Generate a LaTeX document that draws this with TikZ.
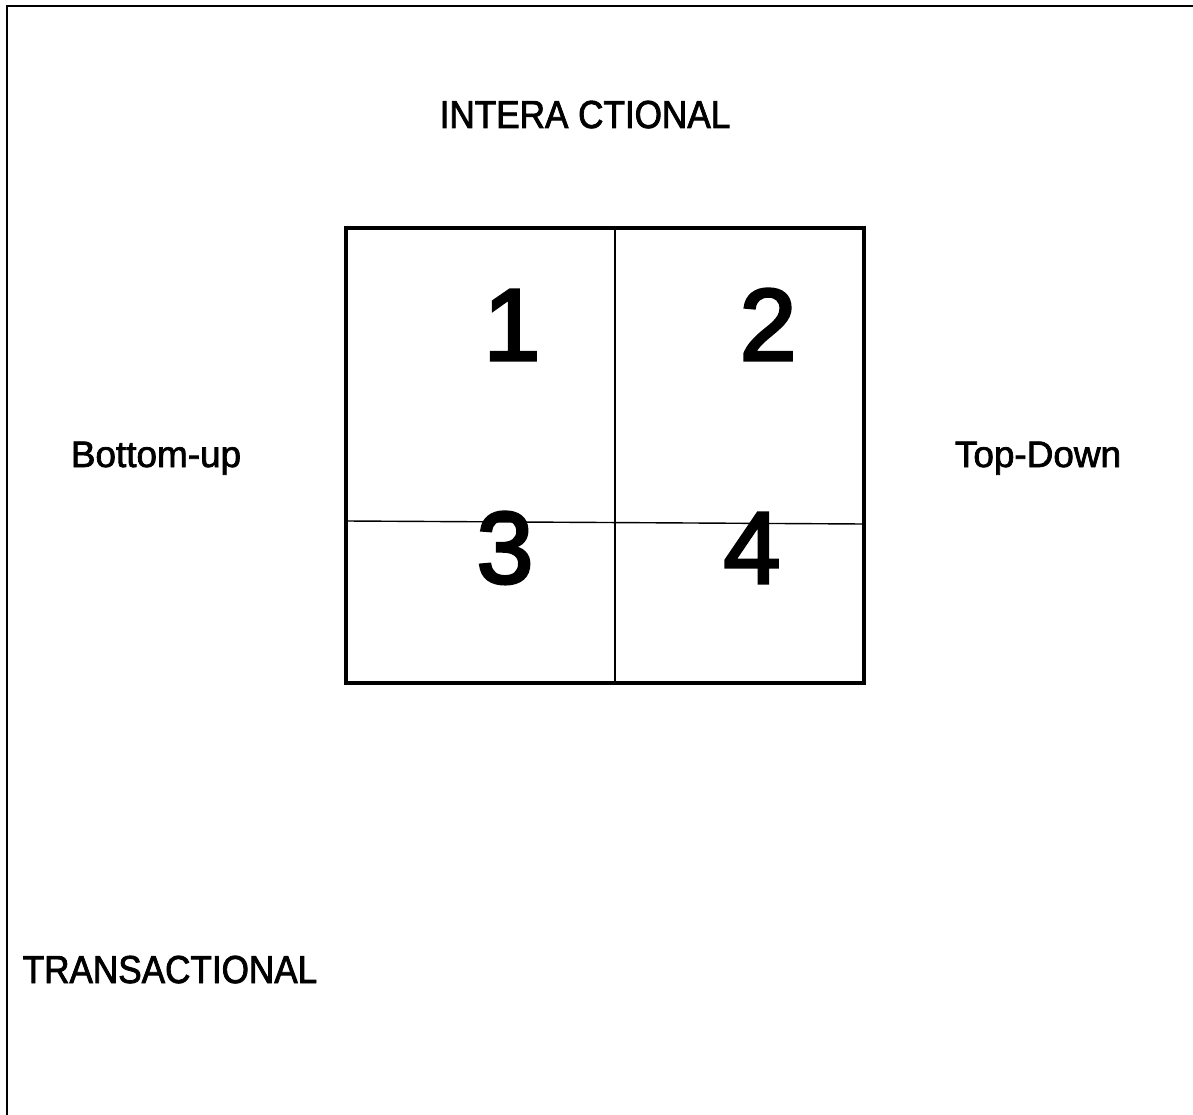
\documentclass[tikz,border=0pt]{standalone}
\usepackage{fontspec}
\setmainfont{Liberation Sans}
\newfontfamily\labelfont[FakeBold=2]{Liberation Sans}
\newfontfamily\digitfont[FakeBold=3]{Liberation Sans}
\newfontfamily\capsfont[FakeStretch=0.9, FakeBold=2]{Liberation Sans}
\usetikzlibrary{positioning}

\begin{document}
\begin{tikzpicture}[x=0.02cm, y=-0.02cm,
    heading/.style={anchor=base, inner sep=0pt, font=\capsfont\fontsize{22.2}{26}\selectfont},
    side/.style={anchor=base, inner sep=0pt, font=\labelfont\fontsize{21}{25}\selectfont},
    quadrant/.style={anchor=base, inner sep=0pt, font=\digitfont\fontsize{58}{64}\selectfont}]
    \useasboundingbox (0,0) rectangle (1193,1115);

    % Frame
    \draw[line width=1.1pt] (7,1115) -- (7,6) -- (1193,6);

    % Quadrant box
    \node[draw, line width=2.2pt, inner sep=0pt, minimum width=10.36cm, minimum height=9.1cm] (grid) at (605,455.5) {};
    \coordinate (divtop) at (615,228);
    \coordinate (divbot) at (615,683);
    \coordinate (divleft) at (347,521);
    \coordinate (divright) at (864,524);
    \draw[line width=0.8pt] (divtop) -- (divbot);
    \draw[line width=0.8pt] (divleft) -- (divright);

    % Numbers
    \node[quadrant] (one) at (512,360) {1};
    \node[quadrant] (two) at (768,360) {2};
    \node[quadrant] (three) at (505,583) {3};
    \node[quadrant] (four) at (752,583) {4};

    % Labels
    \node[heading] (inter) at (585,128) {INTERA CTIONAL};
    \node[side] (bottomup) at (156,467) {Bottom-up};
    \node[side] (topdown) at (1038,467) {Top-Down};
    \node[heading] (trans) at (170,983) {TRANSACTIONAL};
\end{tikzpicture}
\end{document}
